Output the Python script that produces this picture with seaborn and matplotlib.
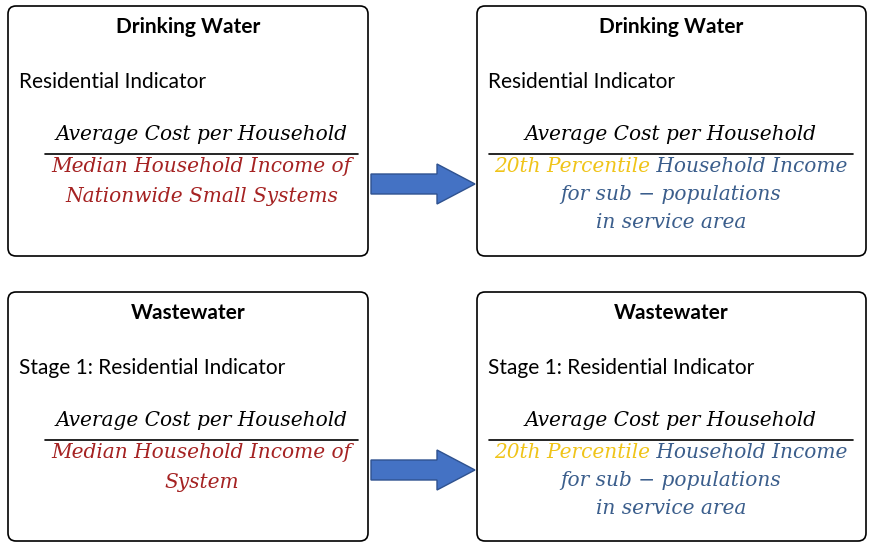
import matplotlib
matplotlib.use("Agg")
import matplotlib.pyplot as plt
import seaborn as sns
from matplotlib.patches import FancyBboxPatch, FancyArrow

sns.set_theme(style="white")

titles = ["Drinking Water", "Wastewater"]
indicators = ["Residential Indicator", "Stage 1: Residential Indicator"]
numerator = "Average Cost per Household"
left_denoms = [["Median Household Income of", "Nationwide Small Systems"],
               ["Median Household Income of", "System"]]
right_first = ["20th Percentile", " Household Income"]
right_rest = ["for sub \u2212 populations", "in service area"]

RED = "#A52222"
YEL = "#F0C419"
BLUE = "#3B5E8C"
TFONT = "Lato"
MFONT = "DejaVu Serif"
MSIZE = 14.5
TSIZE = 15

fig = plt.figure(figsize=(8.74, 5.51), dpi=100)
ax = fig.add_axes([0, 0, 1, 1])
ax.set_xlim(0, 874); ax.set_ylim(551, 0); ax.axis("off")

boxes_x = [(8, 368), (477, 866)]
rows_y = [(6, 256), (292, 541)]

for r, (y0, y1) in enumerate(rows_y):
    for c, (x0, x1) in enumerate(boxes_x):
        ax.add_patch(FancyBboxPatch((x0, y0), x1 - x0, y1 - y0,
                                    boxstyle="round,pad=0,rounding_size=8",
                                    fc="white", ec="black", lw=1.2))
        cx = (x0 + x1) / 2
        ax.text(cx, y0 + 21, titles[r], ha="center", va="center",
                fontsize=TSIZE, fontweight="bold", family=TFONT, color="black")
        ax.text(x0 + 11, y0 + 76, indicators[r], ha="left", va="center",
                fontsize=TSIZE, family=TFONT, color="black")
        lx0, lx1 = (x0 + 37, x1 - 10) if c == 0 else (x0 + 12, x1 - 13)
        ax.text((lx0 + lx1) / 2, y0 + 129, numerator, ha="center", va="center",
                fontsize=MSIZE, family=MFONT, style="italic", color="black")
        ax.plot([lx0, lx1], [y0 + 148, y0 + 148], color="black", lw=1.2)
        if c == 0:
            for i, s in enumerate(left_denoms[r]):
                ax.text((lx0 + lx1) / 2, y0 + 161 + 29 * i, s, ha="center", va="center",
                        fontsize=MSIZE, family=MFONT, style="italic", color=RED)
        else:
            cxr = (lx0 + lx1) / 2
            t1 = ax.text(0, y0 + 161, right_first[0], ha="left", va="center",
                         fontsize=MSIZE, family=MFONT, style="italic", color=YEL)
            t2 = ax.text(0, y0 + 161, right_first[1], ha="left", va="center",
                         fontsize=MSIZE, family=MFONT, style="italic", color=BLUE)
            fig.canvas.draw()
            rend = fig.canvas.get_renderer()
            w1 = t1.get_window_extent(rend).width
            w2 = t2.get_window_extent(rend).width
            start = cxr - (w1 + w2) / 2
            t1.set_x(start); t2.set_x(start + w1)
            for i, s in enumerate(right_rest):
                ax.text(cxr, y0 + 189 + 27 * i, s, ha="center", va="center",
                        fontsize=MSIZE, family=MFONT, style="italic", color=BLUE)
    ymid = y0 + 178
    ax.add_patch(FancyArrow(371, ymid, 104, 0, width=20, head_width=40,
                            head_length=38, length_includes_head=True,
                            fc="#4472C4", ec="#2F528F", lw=1))

fig.savefig("out.png", dpi=100)
